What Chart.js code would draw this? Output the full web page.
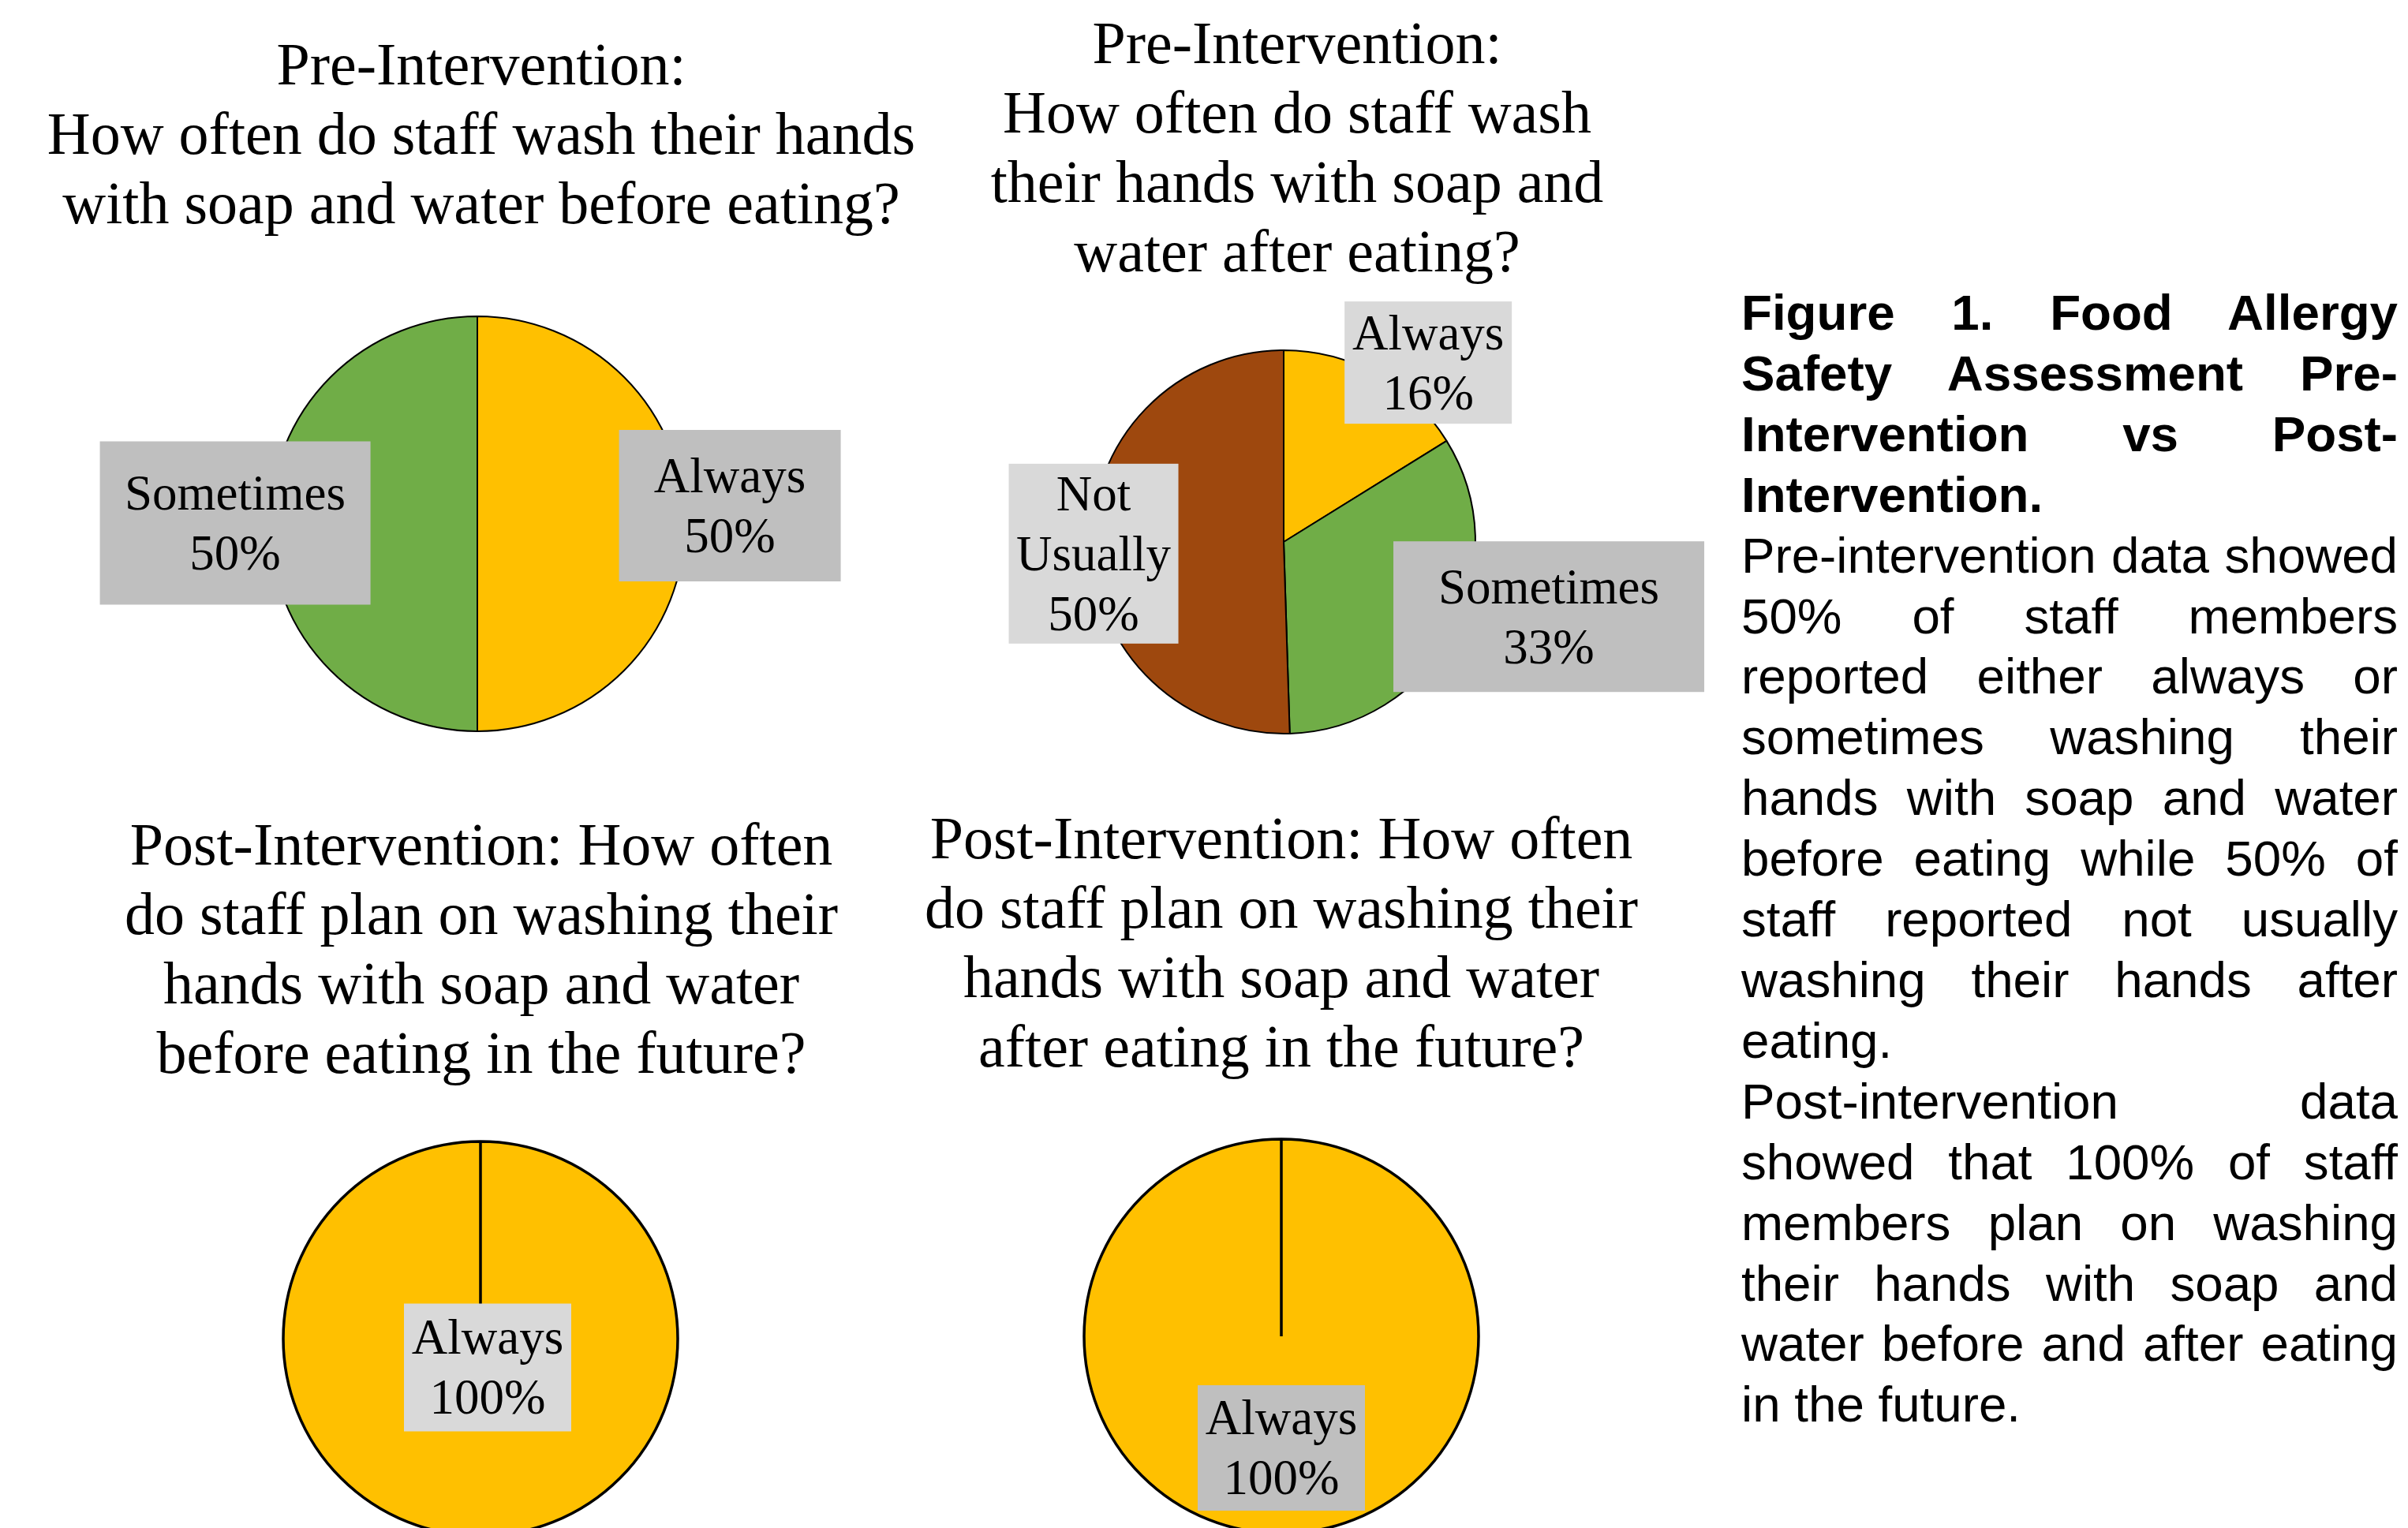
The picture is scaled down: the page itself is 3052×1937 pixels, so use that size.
<!DOCTYPE html>
<html>
<head>
<meta charset="utf-8">
<script src="https://cdn.jsdelivr.net/npm/chart.js@4.4.1/dist/chart.umd.min.js"></script>
<style>
html, body { margin: 0; padding: 0; background: #fff; overflow: hidden; }
#page { position: relative; width: 3052px; height: 1937px; overflow: hidden; background: #fff; }
.title { position: absolute; width: 1300px; text-align: center; font-family: "Liberation Serif", "Times New Roman", serif; font-size: 76px; line-height: 88px; color: #000; white-space: nowrap; }
canvas { position: absolute; }
#caption { position: absolute; left: 2207px; top: 358px; width: 832px; font-family: "Liberation Sans", Arial, sans-serif; font-size: 63.7px; line-height: 76.9px; color: #000; }
#caption .j { text-align: justify; text-align-last: justify; }
#caption .b { font-weight: bold; }
</style>
</head>
<body>
<div id="page">
  <div class="title" id="t1"></div>
  <div class="title" id="t2"></div>
  <div class="title" id="t3"></div>
  <div class="title" id="t4"></div>
  <canvas id="c1"></canvas>
  <canvas id="c2"></canvas>
  <canvas id="c3"></canvas>
  <canvas id="c4"></canvas>
  <div id="caption">
    <div class="b j">Figure 1. Food Allergy</div>
    <div class="b j">Safety Assessment Pre-</div>
    <div class="b j">Intervention vs Post-</div>
    <div class="b">Intervention.</div>
    <div class="j">Pre-intervention data showed</div>
    <div class="j">50% of staff members</div>
    <div class="j">reported either always or</div>
    <div class="j">sometimes washing their</div>
    <div class="j">hands with soap and water</div>
    <div class="j">before eating while 50% of</div>
    <div class="j">staff reported not usually</div>
    <div class="j">washing their hands after</div>
    <div>eating.</div>
    <div class="j">Post-intervention data</div>
    <div class="j">showed that 100% of staff</div>
    <div class="j">members plan on washing</div>
    <div class="j">their hands with soap and</div>
    <div class="j">water before and after eating</div>
    <div>in the future.</div>
  </div>
</div>
<script>
// ---- Data ----
const preBeforeTitle = ['Pre-Intervention:', 'How often do staff wash their hands', 'with soap and water before eating?'];
const preBeforeLabels = ['Always', 'Sometimes'];
const preBeforeValues = [50, 50];

const preAfterTitle = ['Pre-Intervention:', 'How often do staff wash', 'their hands with soap and', 'water after eating?'];
const preAfterLabels = ['Always', 'Sometimes', 'Not Usually'];
const preAfterValues = [16, 33, 50];

const postBeforeTitle = ['Post-Intervention: How often', 'do staff plan on washing their', 'hands with soap and water', 'before eating in the future?'];
const postBeforeLabels = ['Always'];
const postBeforeValues = [100];

const postAfterTitle = ['Post-Intervention: How often', 'do staff plan on washing their', 'hands with soap and water', 'after eating in the future?'];
const postAfterLabels = ['Always'];
const postAfterValues = [100];

// ---- Styles / layout ----
const colorMap = { 'Always': '#FFC000', 'Sometimes': '#70AD47', 'Not Usually': '#9E480E' };
const LABEL_FONT = { size: 63, family: '"Liberation Serif", "Times New Roman", serif', lineHeight: 76, capHeight: 41.7 };

const chartsCfg = [
  { canvas: 'c1', titleEl: 't1', title: preBeforeTitle, titleCx: 610, titleTop: 37,
    labels: preBeforeLabels, values: preBeforeValues,
    cx: 605, cy: 664, r: 263, w: 1000, h: 600, border: 2,
    labelLayout: [
      { k: 1.217, dx: 0, dy: -23, w: 281, h: 192, bg: '#BFBFBF' },
      { k: 1.167, dx: 0, dy: -1, w: 343, h: 207, bg: '#BFBFBF' }
    ] },
  { canvas: 'c2', titleEl: 't2', title: preAfterTitle, titleCx: 1644, titleTop: 10,
    labels: preAfterLabels, values: preAfterValues,
    cx: 1627, cy: 687, r: 243, w: 1100, h: 640, border: 2,
    labelLayout: [
      { k: 1.0, dx: 65, dy: -15, w: 212, h: 155, bg: '#D9D9D9' },
      { k: 1.2, dx: 79, dy: -43, w: 394, h: 191, bg: '#BFBFBF' },
      { k: 1.0, dx: 2, dy: 11, w: 215, h: 228, bg: '#D9D9D9' }
    ] },
  { canvas: 'c3', titleEl: 't3', title: postBeforeTitle, titleCx: 610, titleTop: 1026,
    labels: postBeforeLabels, values: postBeforeValues,
    cx: 609, cy: 1697, r: 250, w: 560, h: 540, border: 3.5,
    labelLayout: [
      { k: 0.15, dx: 9, dy: -1, w: 212, h: 162, bg: '#D9D9D9' }
    ] },
  { canvas: 'c4', titleEl: 't4', title: postAfterTitle, titleCx: 1624, titleTop: 1018,
    labels: postAfterLabels, values: postAfterValues,
    cx: 1624, cy: 1694, r: 250, w: 560, h: 540, border: 3.5,
    labelLayout: [
      { k: 0.566, dx: 0, dy: 0, w: 212, h: 159, bg: '#BFBFBF' }
    ] }
];

function wrapText(ctx, text, maxW) {
  const words = text.split(' ');
  const lines = [];
  let cur = '';
  words.forEach(wd => {
    const test = cur ? cur + ' ' + wd : wd;
    if (cur && ctx.measureText(test).width > maxW) { lines.push(cur); cur = wd; }
    else cur = test;
  });
  if (cur) lines.push(cur);
  return lines;
}

const boxLabelPlugin = {
  id: 'boxLabels',
  afterDatasetsDraw(chart, args, opts) {
    const ctx = chart.ctx;
    const meta = chart.getDatasetMeta(0);
    const labels = chart.data.labels;
    const values = chart.data.datasets[0].data;
    meta.data.forEach((arc, i) => {
      const p = arc.getProps(['x', 'y', 'startAngle', 'endAngle', 'outerRadius'], true);
      const L = opts.layout[i];
      const mid = (p.startAngle + p.endAngle) / 2;
      const bx = p.x + L.k * p.outerRadius * Math.cos(mid) + L.dx;
      const by = p.y + L.k * p.outerRadius * Math.sin(mid) + L.dy;
      ctx.save();
      ctx.fillStyle = L.bg;
      ctx.fillRect(bx - L.w / 2, by - L.h / 2, L.w, L.h);
      ctx.font = LABEL_FONT.size + 'px ' + LABEL_FONT.family;
      ctx.fillStyle = '#000';
      ctx.textAlign = 'center';
      ctx.textBaseline = 'alphabetic';
      const lines = wrapText(ctx, labels[i], L.w - 8).concat([values[i] + '%']);
      const n = lines.length;
      lines.forEach((t, j) => {
        ctx.fillText(t, bx, by + (j - (n - 1) / 2) * LABEL_FONT.lineHeight + LABEL_FONT.capHeight / 2);
      });
      ctx.restore();
    });
  }
};

chartsCfg.forEach(cfg => {
  const t = document.getElementById(cfg.titleEl);
  t.innerHTML = cfg.title.map(s => s.replace(/&/g, '&amp;')).join('<br>');
  t.style.left = (cfg.titleCx - 650) + 'px';
  t.style.top = cfg.titleTop + 'px';

  const cv = document.getElementById(cfg.canvas);
  cv.width = cfg.w;
  cv.height = cfg.h;
  cv.style.left = (cfg.cx - cfg.w / 2) + 'px';
  cv.style.top = (cfg.cy - cfg.h / 2) + 'px';
  cv.style.width = cfg.w + 'px';
  cv.style.height = cfg.h + 'px';

  new Chart(cv, {
    type: 'pie',
    data: {
      labels: cfg.labels,
      datasets: [{
        data: cfg.values,
        backgroundColor: cfg.labels.map(l => colorMap[l]),
        borderColor: '#000000',
        borderWidth: cfg.border,
        radius: cfg.r
      }]
    },
    options: {
      responsive: false,
      maintainAspectRatio: false,
      animation: false,
      devicePixelRatio: 1,
      layout: { padding: 0 },
      plugins: {
        legend: { display: false },
        tooltip: { enabled: false },
        title: { display: false },
        boxLabels: { layout: cfg.labelLayout }
      }
    },
    plugins: [boxLabelPlugin]
  });
});
</script>
</body>
</html>
